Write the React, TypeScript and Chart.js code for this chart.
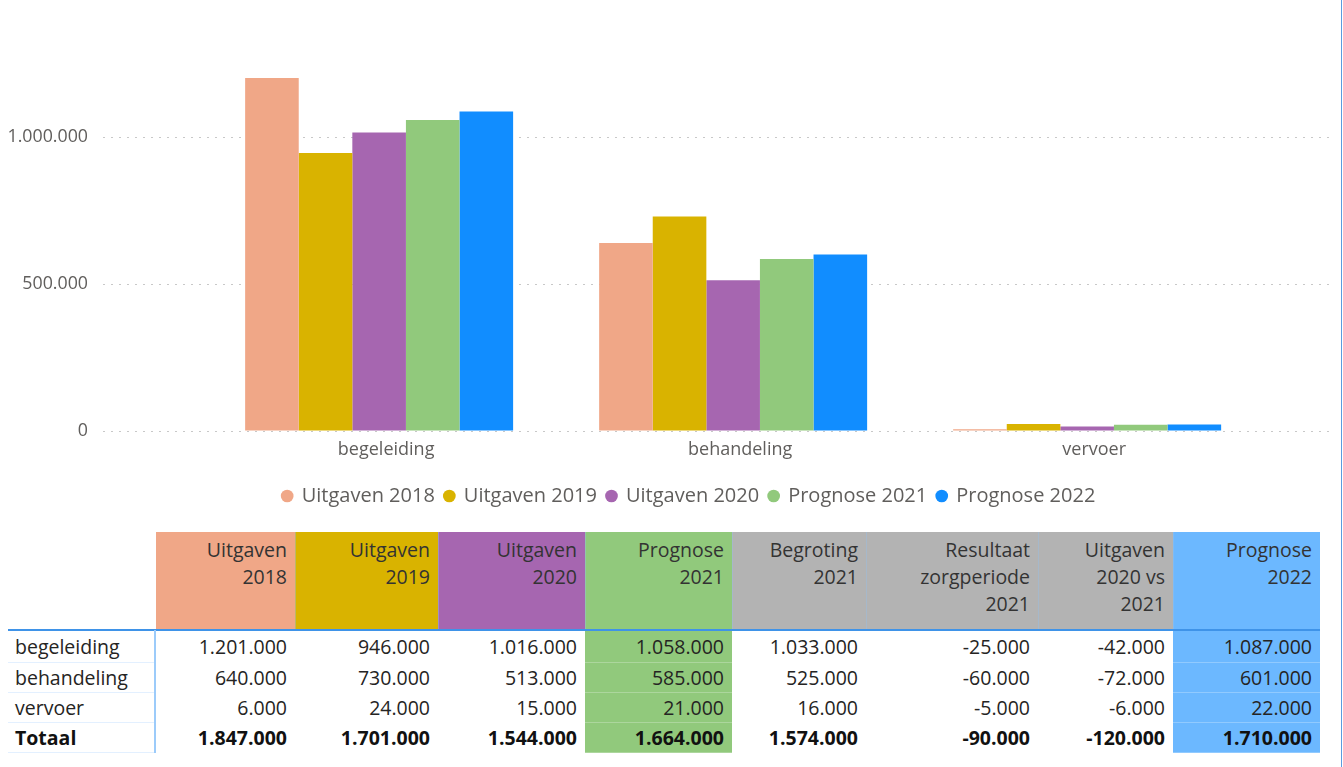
import React, { useEffect, useRef } from 'react';
import { Chart, registerables } from 'chart.js';

Chart.register(...registerables);

// ---- data ----
const CATEGORIES = ['begeleiding', 'behandeling', 'vervoer'];
const UITGAVEN_2018 = [1201000, 640000, 6000];
const UITGAVEN_2019 = [946000, 730000, 24000];
const UITGAVEN_2020 = [1016000, 513000, 15000];
const PROGNOSE_2021 = [1058000, 585000, 21000];
const BEGROTING_2021 = [1033000, 525000, 16000];
const RESULTAAT_2021 = [-25000, -60000, -5000];
const VERSCHIL_2020_2021 = [-42000, -72000, -6000];
const PROGNOSE_2022 = [1087000, 601000, 22000];
// column totals as shown in the table (order of table columns)
const TOTALS = [1847000, 1701000, 1544000, 1664000, 1574000, -90000, -120000, 1710000];
const Y_TICKS = [0, 500000, 1000000];
const TOTAL_LABEL = 'Totaal';

const FONT = "'Segoe UI', 'Open Sans', sans-serif";

const C_2018 = '#F0A787';
const C_2019 = '#D9B300';
const C_2020 = '#A666B0';
const C_2021 = '#91C97C';
const C_2022 = '#118DFF';
const C_2022_TABLE = '#6CB8FF';
const C_GRAY = '#B3B3B3';

function fmt(v: number): string {
  const neg = v < 0;
  const s = Math.round(Math.abs(v)).toString().replace(/\B(?=(\d{3})+(?!\d))/g, '.');
  return (neg ? '-' : '') + s;
}

const SERIES = [
  { label: 'Uitgaven 2018', data: UITGAVEN_2018, color: C_2018 },
  { label: 'Uitgaven 2019', data: UITGAVEN_2019, color: C_2019 },
  { label: 'Uitgaven 2020', data: UITGAVEN_2020, color: C_2020 },
  { label: 'Prognose 2021', data: PROGNOSE_2021, color: C_2021 },
  { label: 'Prognose 2022', data: PROGNOSE_2022, color: C_2022 },
];

const TABLE_COLS = [
  { title: ['Uitgaven', '2018'], values: UITGAVEN_2018, head: C_2018, body: '' },
  { title: ['Uitgaven', '2019'], values: UITGAVEN_2019, head: C_2019, body: '' },
  { title: ['Uitgaven', '2020'], values: UITGAVEN_2020, head: C_2020, body: '' },
  { title: ['Prognose', '2021'], values: PROGNOSE_2021, head: C_2021, body: C_2021 },
  { title: ['Begroting', '2021'], values: BEGROTING_2021, head: C_GRAY, body: '' },
  { title: ['Resultaat', 'zorgperiode', '2021'], values: RESULTAAT_2021, head: C_GRAY, body: '' },
  { title: ['Uitgaven', '2020 vs', '2021'], values: VERSCHIL_2020_2021, head: C_GRAY, body: '' },
  { title: ['Prognose', '2022'], values: PROGNOSE_2022, head: C_2022_TABLE, body: C_2022_TABLE },
];

// layout of the table (pixels)
const COL_EDGES = [156, 295, 438, 585, 732, 866, 1038, 1173, 1320];
const TABLE_LEFT = 8;
const HEAD_TOP = 532;
const HEAD_BOTTOM = 630;
const ROW_TOP = 633;
const ROW_H = 30;

function BarChart() {
  const ref = useRef<HTMLCanvasElement | null>(null);
  useEffect(() => {
    if (!ref.current) return;
    const chart = new Chart(ref.current, {
      type: 'bar',
      data: {
        datasets: SERIES.map((s) => ({
          label: s.label,
          data: s.data.map((v, i) => ({ x: i, y: v })),
          backgroundColor: s.color,
          borderWidth: 0,
          barPercentage: 1,
          categoryPercentage: 0.757,
        })),
      },
      options: {
        animation: false,
        responsive: true,
        maintainAspectRatio: false,
        layout: { padding: { top: 49, left: 0, right: 0, bottom: 0 } },
        plugins: {
          tooltip: { enabled: false },
          legend: {
            position: 'bottom',
            labels: {
              usePointStyle: true,
              pointStyle: 'circle',
              boxWidth: 9,
              boxHeight: 9,
              padding: 10,
              color: '#605E5C',
              font: { family: FONT, size: 20 },
            },
          },
        },
        scales: {
          x: {
            type: 'linear',
            offset: false,
            min: -0.78,
            max: 2.686,
            afterBuildTicks: (scale: any) => {
              scale.ticks = CATEGORIES.map((_, i) => ({ value: i }));
            },
            afterFit: (scale: any) => {
              scale.height = 45;
            },
            grid: { display: false, drawTicks: false, offset: false },
            border: { display: false },
            ticks: {
              padding: 8,
              labelOffset: 7,
              color: '#605E5C',
              font: { family: FONT, size: 18 },
              callback: (v: any) => CATEGORIES[Math.round(Number(v))] ?? '',
            },
          },
          y: {
            min: 0,
            max: 1300000,
            afterBuildTicks: (scale: any) => {
              scale.ticks = Y_TICKS.map((v) => ({ value: v }));
            },
            afterFit: (scale: any) => {
              scale.width = 103;
            },
            grid: { color: '#C8C8C8', lineWidth: 1, drawTicks: false },
            border: { display: false, dash: [2, 6] },
            ticks: {
              padding: 15,
              color: '#605E5C',
              font: { family: FONT, size: 17.8 },
              callback: (v: any) => fmt(Number(v)),
            },
          },
          yRight: {
            position: 'right',
            display: true,
            afterFit: (scale: any) => {
              scale.width = 48;
            },
            grid: { display: false, drawTicks: false },
            border: { display: false },
            ticks: { display: false },
          },
        },
      } as any,
    });
    return () => chart.destroy();
  }, []);
  return (
    <div style={{ position: 'absolute', left: 0, top: 0, width: 1378, height: 516 }}>
      <canvas ref={ref} />
    </div>
  );
}

function DataTable() {
  const textColor = '#252423';
  const cells: React.ReactNode[] = [];
  TABLE_COLS.forEach((c, ci) => {
    const left = COL_EDGES[ci];
    const w = COL_EDGES[ci + 1] - left;
    cells.push(
      <div
        key={'h' + ci}
        style={{
          position: 'absolute',
          left,
          top: HEAD_TOP,
          width: w,
          height: HEAD_BOTTOM - HEAD_TOP,
          background: c.head,
          boxSizing: 'border-box',
          borderLeft: ci > 0 ? '1px solid rgba(150,190,230,0.45)' : 'none',
          textAlign: 'right',
          paddingRight: 8,
          paddingTop: 4,
          lineHeight: '27px',
          color: '#333',
        }}
      >
        {c.title.map((t, k) => (
          <div key={k}>{t}</div>
        ))}
      </div>
    );
  });
  const rowLabels = [...CATEGORIES, TOTAL_LABEL];
  rowLabels.forEach((lab, ri) => {
    const top = ROW_TOP + ri * ROW_H - (ri === 0 ? 2 : 0);
    const h = ROW_H + (ri === 0 ? 2 : 0);
    const bold = ri === CATEGORIES.length;
    cells.push(
      <div
        key={'r' + ri}
        style={{
          position: 'absolute',
          left: TABLE_LEFT,
          top,
          width: COL_EDGES[0] - TABLE_LEFT - 2,
          height: h,
          boxSizing: 'border-box',
          borderBottom: '1px solid #E3F0FF',
          paddingLeft: 7,
          lineHeight: h + 'px',
          fontWeight: bold ? 700 : 400,
          color: bold ? '#111' : textColor,
        }}
      >
        {lab}
      </div>
    );
    TABLE_COLS.forEach((c, ci) => {
      const left = COL_EDGES[ci];
      const w = COL_EDGES[ci + 1] - left;
      const v = bold ? TOTALS[ci] : c.values[ri];
      cells.push(
        <div
          key={'c' + ri + '-' + ci}
          style={{
            position: 'absolute',
            left,
            top,
            width: w,
            height: h,
            boxSizing: 'border-box',
            background: c.body || 'transparent',
            borderBottom: c.body ? '1px solid rgba(255,255,255,0.25)' : 'none',
            textAlign: 'right',
            paddingRight: 8,
            lineHeight: h + 'px',
            fontWeight: bold ? 700 : 400,
            color: bold ? '#111' : textColor,
          }}
        >
          {fmt(v)}
        </div>
      );
    });
  });
  return (
    <>
      {cells}
      <div style={{ position: 'absolute', left: TABLE_LEFT, top: HEAD_BOTTOM - 1, width: COL_EDGES[COL_EDGES.length - 1] - TABLE_LEFT, height: 2, background: '#3F93E8' }} />
      <div style={{ position: 'absolute', left: COL_EDGES[0] - 2, top: HEAD_BOTTOM, width: 2, height: ROW_TOP + ROW_H * 4 - HEAD_BOTTOM, background: '#9CCBFA' }} />
    </>
  );
}

export default function App() {
  return (
    <div
      style={{
        position: 'fixed',
        left: 0,
        top: 0,
        width: 1343,
        height: 767,
        background: '#fff',
        fontFamily: FONT,
        fontSize: 19.5,
        overflow: 'hidden',
      }}
    >
      <BarChart />
      <DataTable />
      <div style={{ position: 'absolute', left: 1341, top: 0, width: 1, height: 767, background: '#5B9BDF' }} />
    </div>
  );
}
